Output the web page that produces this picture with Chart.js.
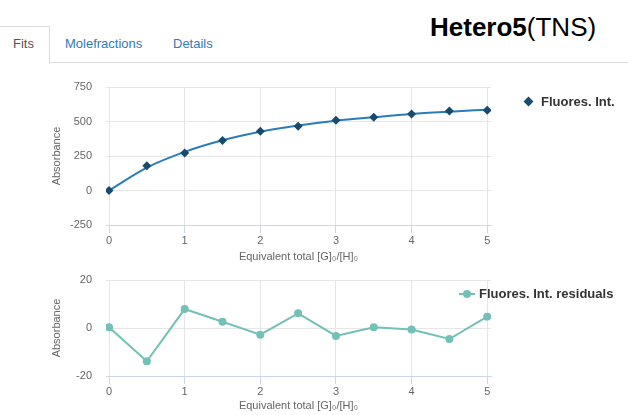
<!DOCTYPE html>
<html>
<head>
<meta charset="utf-8">
<script src="https://cdn.jsdelivr.net/npm/chart.js@4.4.1/dist/chart.umd.min.js"></script>
<style>
  html, body { margin: 0; padding: 0; background: #fff; }
  body { width: 628px; height: 415px; position: relative; overflow: hidden;
         font-family: "Liberation Sans", Arial, sans-serif; }
  .title { position: absolute; left: 430px; top: 11px; font-size: 26px; color: #000; white-space: nowrap; line-height: 32px; }
  .title b { font-weight: bold; }
  .tabline { position: absolute; left: 49px; right: 0; top: 62px; height: 0; border-top: 1px solid #ddd; }
  .tab-active { position: absolute; left: -1px; top: 26px; width: 49px; height: 37px;
                border: 1px solid #ddd; border-bottom: none; background: #fff; }
  .tab { position: absolute; top: 36px; font-size: 13px; line-height: 16px; white-space: nowrap; }
  .legend { position: absolute; font-size: 13px; font-weight: bold; color: #333; white-space: nowrap; line-height: 16px; }
  canvas { position: absolute; left: 0; }
</style>
</head>
<body>
<div class="title"><b>Hetero5</b>(TNS)</div>
<div class="tabline"></div>
<div class="tab-active"></div>
<div class="tab" style="left:13px;color:#555;">Fits</div>
<div class="tab" style="left:65px;color:#337ab7;">Molefractions</div>
<div class="tab" style="left:173px;color:#337ab7;">Details</div>

<canvas id="fitChart" width="628" height="200" style="top:70px;width:628px;height:200px;"></canvas>
<canvas id="resChart" width="628" height="150" style="top:265px;width:628px;height:150px;"></canvas>

<div class="legend" style="left:525px;top:94px;"><span style="display:inline-block;width:7px;height:7px;background:#174a6c;transform:rotate(45deg);margin-right:9px;position:relative;top:-1px;"></span>Fluores. Int.</div>
<div class="legend" style="left:459px;top:286px;"><span style="display:inline-block;position:relative;width:16px;height:8px;margin-right:4px;vertical-align:middle;top:-1px;"><span style="position:absolute;left:0;top:3px;width:16px;height:2px;background:#73c0b8;"></span><span style="position:absolute;left:4px;top:0;width:8px;height:8px;border-radius:50%;background:#73c0b8;"></span></span>Fluores. Int. residuals</div>

<script>
// Equivalents of guest added
const equivalents = [0, 0.5, 1, 1.5, 2, 2.5, 3, 3.5, 4, 4.5, 5];
// Measured fluorescence intensity
const measured = [0, 180, 272, 362, 429, 465, 509, 531, 555, 576, 582];
// Fitted binding curve at the same equivalents
const fitted = [0, 166, 280, 364, 426, 471, 506, 531, 554, 571, 586];
// Residuals of the fit
const residuals = [0.3, -13.9, 7.9, 2.6, -2.8, 6.1, -3.3, 0.3, -0.6, -4.6, 4.7];

const fitTicks = [-250, 0, 250, 500, 750];
const resTicks = [-20, 0, 20];
const xTicks = [0, 1, 2, 3, 4, 5];

const xTitle = 'Equivalent total [G]\u2080/[H]\u2080';
const yTitle = 'Absorbance';

const FONT = "'Liberation Sans', Arial, sans-serif";
const pts = (ys) => equivalents.map((x, i) => ({ x: x, y: ys[i] }));

function xScale(height, titlePad) {
  return {
    type: 'linear', min: -0.04, max: 5.05,
    afterFit: (s) => { s.height = height; },
    afterBuildTicks: (s) => { s.ticks = xTicks.map(v => ({ value: v })); },
    ticks: { includeBounds: false, stepSize: 1, padding: 1, color: '#666', font: { family: FONT, size: 11 }, maxRotation: 0 },
    grid: { color: '#e6e6e6', tickColor: '#ccd6eb', tickLength: 8, drawTicks: true },
    border: { color: '#ccd6eb', width: 1 },
    title: { display: true, text: xTitle, color: '#666', font: { family: FONT, size: 11 }, padding: { top: 0, bottom: titlePad } }
  };
}
function yScale(min, max, step, ticks) {
  return {
    type: 'linear', min: min, max: max,
    afterFit: (s) => { s.width = 106; },
    afterBuildTicks: (s) => { s.ticks = ticks.map(v => ({ value: v })); },
    // label gap to the plot comes from an invisible tick mark
    ticks: { stepSize: step, padding: 0, color: '#666', font: { family: FONT, size: 11 } },
    grid: { color: '#e6e6e6', drawTicks: true, tickLength: 14, tickColor: 'rgba(0,0,0,0)' },
    border: { display: false },
    title: { display: true, text: yTitle, color: '#666', font: { family: FONT, size: 11 }, padding: { top: 50, bottom: 0 } }
  };
}

new Chart(document.getElementById('fitChart'), {
  type: 'scatter',
  data: {
    datasets: [
      { label: 'Fit', data: pts(fitted), showLine: true, borderColor: '#2a7cbb', borderWidth: 2,
        cubicInterpolationMode: 'monotone', pointRadius: 0, order: 2 },
      { label: 'Fluores. Int.', data: pts(measured), showLine: false, pointStyle: 'rectRot',
        pointRadius: 4.5, backgroundColor: '#174a6c', borderColor: '#174a6c', borderWidth: 0, order: 1 }
    ]
  },
  options: {
    responsive: false, animation: false, devicePixelRatio: 1,
    layout: { padding: { top: 17, right: 137, left: 0, bottom: 0 } },
    plugins: { legend: { display: false }, tooltip: { enabled: false } },
    scales: { x: xScale(45, 6), y: yScale(-250, 750, 250, fitTicks) }
  }
});

new Chart(document.getElementById('resChart'), {
  type: 'scatter',
  data: {
    datasets: [
      { label: 'Fluores. Int. residuals', data: pts(residuals), showLine: true, borderColor: '#73c0b8',
        borderWidth: 2, pointRadius: 4, backgroundColor: '#73c0b8', pointBorderWidth: 0, tension: 0 }
    ]
  },
  options: {
    responsive: false, animation: false, devicePixelRatio: 1,
    layout: { padding: { top: 15, right: 137, left: 0, bottom: 0 } },
    plugins: { legend: { display: false }, tooltip: { enabled: false } },
    scales: { x: xScale(39, 2), y: yScale(-20, 20, 20, resTicks) }
  }
});
</script>
</body>
</html>
